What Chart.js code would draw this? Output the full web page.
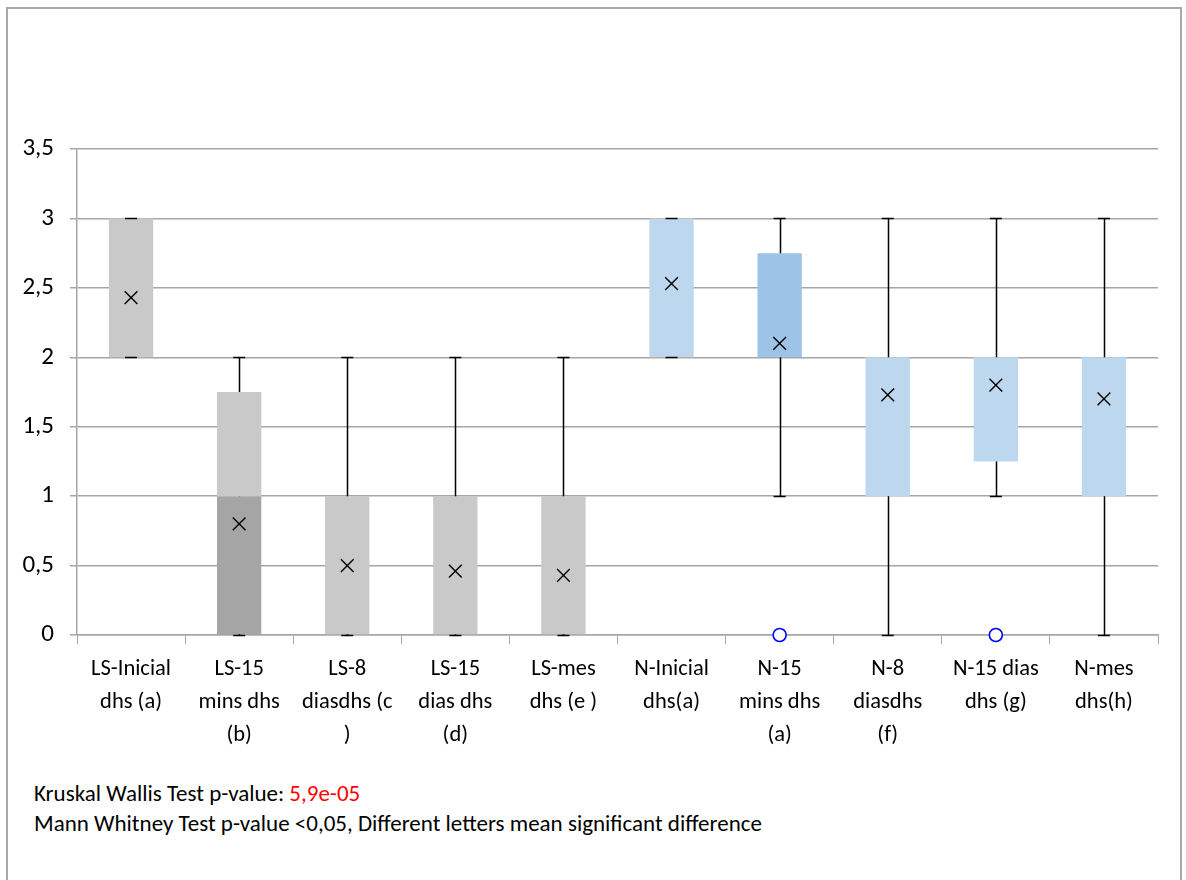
<!DOCTYPE html>
<html>
<head>
<meta charset="utf-8">
<script src="https://cdn.jsdelivr.net/npm/chart.js@4.4.1/dist/chart.umd.min.js"></script>
<style>
  body { margin: 0; background: #fff; width: 1186px; height: 880px; overflow: hidden; position: relative; }
  #frame { position: absolute; left: 6px; top: 7px; width: 1176px; height: 900px; border: 2px solid #a8a8a8; box-sizing: border-box; }
  #wrap { position: absolute; left: 0; top: 0; width: 1186px; height: 760px; }
  #notes { position: absolute; left: 34px; top: 778px; font-family: Carlito, Calibri, Lato, sans-serif; font-size: 23px; line-height: 30px; color: #000; }
  #notes .red { color: #ff0000; }
</style>
</head>
<body>
<div id="frame"></div>
<div id="wrap"><canvas id="boxChart" width="1186" height="760"></canvas></div>
<div id="notes">
  <div>Kruskal Wallis Test p-value: <span class="red">5,9e-05</span></div>
  <div>Mann Whitney Test p-value &lt;0,05, Different letters mean significant difference</div>
</div>
<script>
// Dureza (dhs) por grupo: LS y N
const categories = [
    ['LS-Inicial', 'dhs (a)'],
    ['LS-15', 'mins dhs', '(b)'],
    ['LS-8', 'diasdhs (c', ')'],
    ['LS-15', 'dias dhs', '(d)'],
    ['LS-mes', 'dhs (e )'],
    ['N-Inicial', 'dhs(a)'],
    ['N-15', 'mins dhs', '(a)'],
    ['N-8', 'diasdhs', '(f)'],
    ['N-15 dias', 'dhs (g)'],
    ['N-mes', 'dhs(h)']
];
const q1         = [2, 0,    0, 0, 0, 2, 2,    1, 1.25, 1];
const median     = [2, 1,    0, 0, 0, 2, 2.75, 1, 1.25, 1];
const q3         = [3, 1.75, 1, 1, 1, 3, 2.75, 2, 2,    2];
const whiskerMin = [2, 0,    0, 0, 0, 2, 1,    0, 1,    0];
const whiskerMax = [3, 2,    2, 2, 2, 3, 3,    3, 3,    3];
const means      = [2.43, 0.80, 0.50, 0.46, 0.43, 2.53, 2.10, 1.73, 1.80, 1.70];
const outliers   = [null, null, null, null, null, null, 0, null, 0, null];
const yTicks     = [0, 0.5, 1, 1.5, 2, 2.5, 3, 3.5];

const isLS = categories.map(c => c[0].startsWith('LS'));
const darkColors  = isLS.map(ls => ls ? '#a5a5a5' : '#9dc3e6');
const lightColors = isLS.map(ls => ls ? '#c9c9c9' : '#bdd7ee');

const FONT = 'Carlito, Calibri, Lato, sans-serif';
const GRID = '#a6a6a6';

// whisker lines behind the boxes, caps on top of them
const whiskers = {
    id: 'whiskers',
    beforeDatasetsDraw(chart) {
        const { ctx, scales: { x, y } } = chart;
        ctx.save();
        ctx.strokeStyle = '#000';
        ctx.lineWidth = 1.5;
        whiskerMin.forEach((lo, i) => {
            const px = Math.round(x.getPixelForValue(i)) + 0.5;
            ctx.beginPath();
            ctx.moveTo(px, y.getPixelForValue(lo));
            ctx.lineTo(px, y.getPixelForValue(whiskerMax[i]));
            ctx.stroke();
        });
        ctx.restore();
    },
    afterDatasetDraw(chart, args) {
        if (args.index !== 1) return;
        const { ctx, scales: { x, y } } = chart;
        ctx.save();
        ctx.strokeStyle = '#000';
        ctx.lineWidth = 1.5;
        whiskerMin.forEach((lo, i) => {
            const px = x.getPixelForValue(i);
            [lo, whiskerMax[i]].forEach(v => {
                const py = Math.round(y.getPixelForValue(v)) + 0.5;
                ctx.beginPath();
                ctx.moveTo(px - 6, py);
                ctx.lineTo(px + 6, py);
                ctx.stroke();
            });
        });
        ctx.restore();
    }
};

new Chart(document.getElementById('boxChart'), {
    type: 'bar',
    data: {
        labels: categories,
        datasets: [
            {
                label: 'Q1-Mediana',
                data: q1.map((v, i) => [v, median[i]]),
                backgroundColor: darkColors,
                grouped: false,
                barPercentage: 0.41,
                categoryPercentage: 1,
                order: 3
            },
            {
                label: 'Mediana-Q3',
                data: median.map((v, i) => [v, q3[i]]),
                backgroundColor: lightColors,
                grouped: false,
                barPercentage: 0.41,
                categoryPercentage: 1,
                order: 2
            },
            {
                type: 'line',
                label: 'Media',
                data: means,
                showLine: false,
                pointStyle: 'crossRot',
                pointRadius: 9,
                pointBorderColor: '#000',
                pointBorderWidth: 1.4,
                clip: false,
                order: 1
            },
            {
                type: 'line',
                label: 'Atípicos',
                data: outliers,
                showLine: false,
                pointStyle: 'circle',
                pointRadius: 6.5,
                pointBorderColor: '#0000ff',
                pointBackgroundColor: '#fff',
                pointBorderWidth: 1.6,
                clip: false,
                order: 0
            }
        ]
    },
    options: {
        responsive: false,
        animation: false,
        devicePixelRatio: 1,
        layout: { padding: { top: 149, right: 28, left: 0, bottom: 0 } },
        plugins: {
            legend: { display: false },
            tooltip: { enabled: false }
        },
        scales: {
            x: {
                afterFit: scale => { scale.height = 125; },
                grid: {
                    offset: true,
                    drawOnChartArea: false,
                    color: GRID,
                    tickLength: 9
                },
                border: { color: GRID, width: 1.5 },
                ticks: {
                    autoSkip: false,
                    maxRotation: 0,
                    padding: 9,
                    color: '#000',
                    font: { family: FONT, size: 22.5, lineHeight: 1.47 }
                }
            },
            y: {
                min: 0,
                max: 3.5,
                afterFit: scale => { scale.width = 77; },
                afterBuildTicks: scale => { scale.ticks = yTicks.map(v => ({ value: v })); },
                grid: { color: GRID, lineWidth: 1.5, tickLength: 7 },
                border: { color: GRID, width: 1.5 },
                ticks: {
                    padding: 16,
                    color: '#000',
                    font: { family: FONT, size: 25 },
                    callback: v => String(v).replace('.', ',')
                }
            }
        }
    },
    plugins: [whiskers]
});
</script>
</body>
</html>
